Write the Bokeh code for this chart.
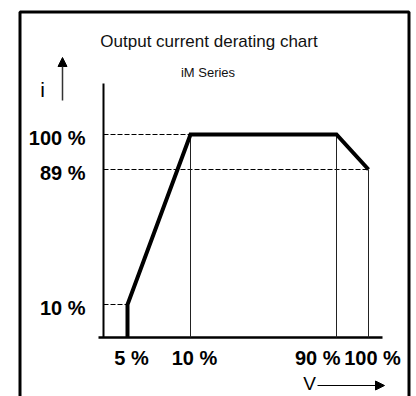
from bokeh.plotting import figure
from bokeh.models import Range1d, ColumnDataSource, Arrow, NormalHead
from bokeh.core.properties import value
from bokeh.embed import file_html
from bokeh.resources import INLINE

# ---- data ----
title = "Output current derating chart"
subtitle = "iM Series"
v_ticks = [5, 10, 90, 100]
v_labels = ["5 %", "10 %", "90 %", "100 %"]
i_ticks = [10, 89, 100]
i_labels = ["10 %", "89 %", "100 %"]
curve_v = [5, 5, 10, 90, 100]
curve_i = [0, 10, 100, 100, 89]

# schematic (not-to-scale) axes: where each labelled value sits along the axis
V_POS = {0: 0, 5: 24, 10: 87, 90: 233, 100: 265}
I_POS = {0: 0, 10: 33, 89: 168, 100: 203}

FONT = value("Liberation Sans")
W, H = 414, 396

p = figure(width=W, height=H, output_backend="svg", toolbar_location=None,
           x_range=Range1d(-103, W - 103), y_range=Range1d(337 - H, 337),
           min_border=0, outline_line_color=None)
p.axis.visible = False
p.grid.visible = False

# outer box
p.quad(left=[-83.5], right=[305.5], top=[325.5], bottom=[-90],
       fill_alpha=0, line_color="black", line_width=3)

# axes lines
top_i = I_POS[100] + 51
p.line(x=[0, 0], y=[0, top_i], line_color="black", line_width=2)
p.line(x=[-5, V_POS[100] + 14], y=[0, 0], line_color="black", line_width=2.5)

# dashed reference lines from the i axis to the curve
cx = [V_POS[v] for v in curve_v]
cy = [I_POS[i] for i in curve_i]
for v, i in zip(curve_v[1:], curve_i[1:]):
    if i in (10, 89) or (i == 100 and v == 10):
        p.line(x=[0, V_POS[v]], y=[I_POS[i], I_POS[i]], line_color="black",
               line_width=1, line_dash="5 2")

# thin verticals at 10 %, 90 %, 100 %
for v, i in zip(curve_v[2:], curve_i[2:]):
    p.line(x=[V_POS[v], V_POS[v]], y=[0, I_POS[i]], line_color="#222222", line_width=1)

# derating curve
p.line(x=cx, y=cy, line_color="black", line_width=4, line_join="miter")

# tick labels
p.text(x=[-18] * len(i_ticks), y=[I_POS[i] - 3 for i in i_ticks], text=i_labels,
       text_align="right", text_baseline="middle", text_font=FONT,
       text_font_size="20px", text_font_style="bold", text_color="black")
v_src = ColumnDataSource(dict(
    x=[V_POS[v] for v in v_ticks], text=v_labels,
    align=["center", "center", "right", "center"],
))
p.text(x="x", y=-20, text="text", source=v_src, x_offset=4,
       text_align="align", text_baseline="middle", text_font=FONT,
       text_font_size="20px", text_font_style="bold", text_color="black")

# titles
p.text(x=[105.5], y=[296], text=[title], text_align="center", text_baseline="middle",
       text_font=FONT, text_font_size="17px", text_color="#111111")
p.text(x=[104.5], y=[265], text=[subtitle], text_align="center", text_baseline="middle",
       text_font=FONT, text_font_size="13px", text_color="#111111")

# axis symbols with arrows
p.text(x=[-61], y=[248], text=["i"], text_align="center", text_baseline="middle",
       text_font=FONT, text_font_size="21px", text_color="black")
p.add_layout(Arrow(end=NormalHead(size=9, fill_color="black", line_color="black"),
                   x_start=-41, y_start=237, x_end=-41, y_end=280,
                   line_color="#333333", line_width=1.5))
p.text(x=[206], y=[-46], text=["V"], text_align="center", text_baseline="middle",
       text_font=FONT, text_font_size="19px", text_color="black")
p.add_layout(Arrow(end=NormalHead(size=9, fill_color="black", line_color="black"),
                   x_start=214, y_start=-48, x_end=281, y_end=-48,
                   line_color="black", line_width=1))

open("out.html", "w").write(file_html(p, INLINE))
